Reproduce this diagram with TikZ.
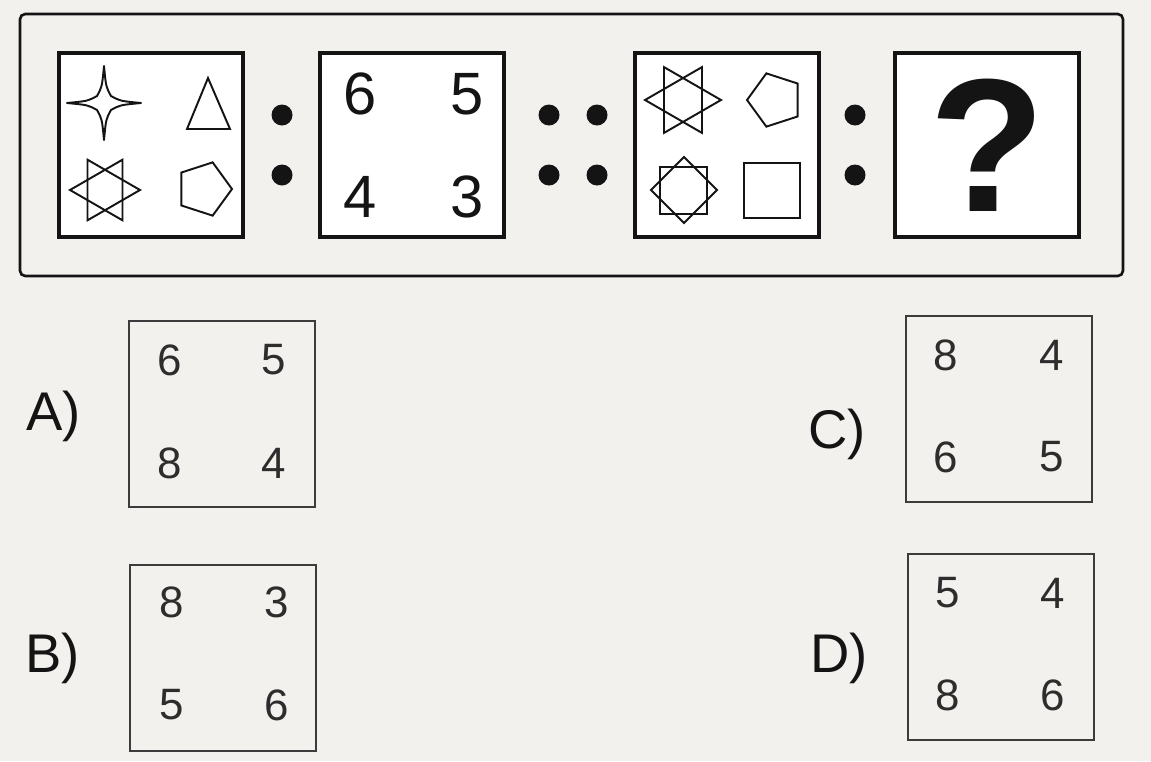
\documentclass[tikz,border=0pt]{standalone}
\usepackage{fontspec}
\setmainfont{Liberation Sans}
\definecolor{paper}{RGB}{243,241,238}
\definecolor{ink}{RGB}{20,20,20}
\definecolor{greyline}{RGB}{60,60,60}
\definecolor{greytext}{RGB}{45,45,45}

\begin{document}
\begin{tikzpicture}[x=0.02cm,y=-0.02cm,
  panel/.style={draw=ink,line width=1.8pt,fill=white,minimum size=3.68cm,inner sep=0pt},
  choice/.style={draw=greyline,line width=1.1pt,minimum size=3.72cm,inner sep=0pt},
  figure/.style={draw=ink,line width=1.1pt,line join=miter},
  bignum/.style={font=\fontsize{34}{36}\selectfont,text=ink},
  smallnum/.style={font=\fontsize{25}{27}\selectfont,text=greytext},
  letter/.style={font=\fontsize{31}{33}\selectfont,text=ink,anchor=base west,inner sep=0pt}]

%% background
\fill [paper] (0,0) rectangle (1151,761);
\useasboundingbox (0,0) rectangle (1151,761);

%% question strip
\draw [ink,line width=1.5pt,rounded corners=3pt] (20,14) rectangle (1123,276);
\node [panel] (fig1) at (151,145) {};
\node [panel] (fig2) at (412,145) {};
\node [panel] (fig3) at (727,145) {};
\node [panel] (fig4) at (987,145) {};
% dots
\foreach \dx in {282,549,597,855}
  \foreach \dy in {115,175}
    \fill [ink] (\dx,\dy) circle (10.5);

% first panel
\begin{scope}[shift={(104,103)}]
  \draw [figure,line join=round] (0,-37) .. controls (2,-16) .. (7,-7) .. controls (16,-2) .. (37,0)
    .. controls (16,2) .. (7,7) .. controls (2,16) .. (0,37)
    .. controls (-2,16) .. (-7,7) .. controls (-16,2) .. (-37,0)
    .. controls (-16,-2) .. (-7,-7) .. controls (-2,-16) .. cycle;
\end{scope}
\draw [figure] (208,78) -- (230,129) -- (187,129) -- cycle;
\draw [figure] (105,190) +(0:35) -- +(120:35) -- +(240:35) -- cycle;
\draw [figure] (105,190) +(60:35) -- +(180:35) -- +(300:35) -- cycle;
\draw [figure] (204,189) +(0:28) -- +(72:28) -- +(144:28) -- +(216:28) -- +(288:28) -- cycle;

% second panel
\node [bignum] (n6) at (360,94)  {6};
\node [bignum] (n5) at (467,94)  {5};
\node [bignum] (n4) at (360,197) {4};
\node [bignum] (n3) at (467,197) {3};

% third panel
\draw [figure] (683,100) +(0:38) -- +(120:38) -- +(240:38) -- cycle;
\draw [figure] (683,100) +(60:38) -- +(180:38) -- +(300:38) -- cycle;
\draw [figure] (775,100) +(180:28) -- +(108:28) -- +(36:28) -- +(-36:28) -- +(-108:28) -- cycle;
\draw [figure] (660,167) rectangle (707,214);
\draw [figure] (684,157) -- (717,190) -- (684,223) -- (651,190) -- cycle;
\draw [figure] (744,163) rectangle (800,218);

% fourth panel
\node [font=\fontsize{108}{110}\selectfont\bfseries,text=ink,inner sep=0pt] (ask) at (987,145) {?};

%% answers
% A
\node [letter] (labA) at (26,430) {A)};
\node [choice] (optA) at (222,414) {};
\node [smallnum] (a1) at (170,360) {6};
\node [smallnum] (a2) at (274,360) {5};
\node [smallnum] (a3) at (170,463) {8};
\node [smallnum] (a4) at (274,463) {4};
% B
\node [letter] (labB) at (25,672) {B)};
\node [choice] (optB) at (223,658) {};
\node [smallnum] (b1) at (172,602) {8};
\node [smallnum] (b2) at (277,602) {3};
\node [smallnum] (b3) at (172,705) {5};
\node [smallnum] (b4) at (277,705) {6};
% C
\node [letter] (labC) at (808,448) {C)};
\node [choice] (optC) at (999,409) {};
\node [smallnum] (c1) at (946,355) {8};
\node [smallnum] (c2) at (1052,355) {4};
\node [smallnum] (c3) at (946,457) {6};
\node [smallnum] (c4) at (1052,457) {5};
% D
\node [letter] (labD) at (810,672) {D)};
\node [choice] (optD) at (1001,647) {};
\node [smallnum] (d1) at (948,593) {5};
\node [smallnum] (d2) at (1053,593) {4};
\node [smallnum] (d3) at (948,695) {8};
\node [smallnum] (d4) at (1053,695) {6};

\end{tikzpicture}
\end{document}
